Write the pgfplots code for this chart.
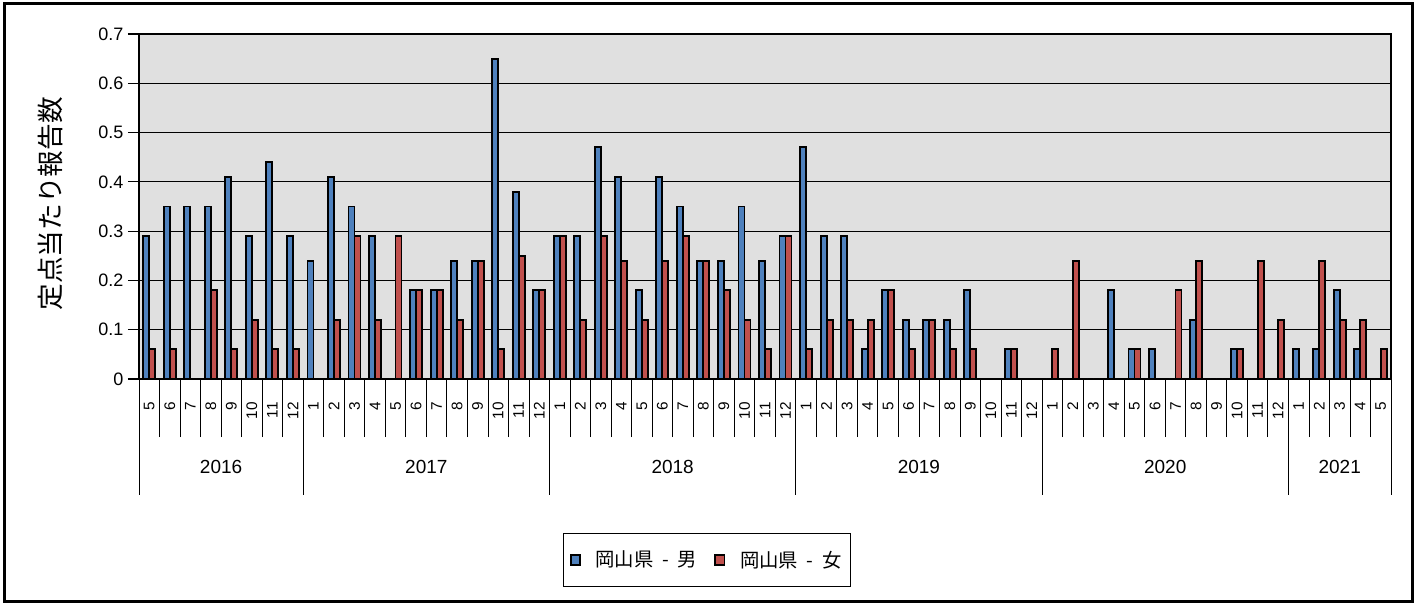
\documentclass[border=0pt]{standalone}
\usepackage{pgfplots}
\usepackage{pgfplotstable}
\pgfplotsset{compat=1.18}
\usepackage{fontspec}
\setmainfont{Liberation Sans}
\newfontfamily\cjk{Noto Sans CJK JP}
\definecolor{mblue}{RGB}{79,129,189}
\definecolor{fred}{RGB}{192,80,77}
\definecolor{plotbg}{RGB}{224,224,224}
\pgfplotsset{sqlegend/.style={legend image code/.code={\draw[##1, line width=1.3pt] (0pt,-3.5pt) rectangle (7pt,3.5pt);}}}

\pgfplotstableread{
x m f
0 0.29 0.06
1 0.35 0.06
2 0.35 0
3 0.35 0.18
4 0.41 0.06
5 0.29 0.12
6 0.44 0.06
7 0.29 0.06
8 0.24 0
9 0.41 0.12
10 0.35 0.29
11 0.29 0.12
12 0 0.29
13 0.18 0.18
14 0.18 0.18
15 0.24 0.12
16 0.24 0.24
17 0.65 0.06
18 0.38 0.25
19 0.18 0.18
20 0.29 0.29
21 0.29 0.12
22 0.47 0.29
23 0.41 0.24
24 0.18 0.12
25 0.41 0.24
26 0.35 0.29
27 0.24 0.24
28 0.24 0.18
29 0.35 0.12
30 0.24 0.06
31 0.29 0.29
32 0.47 0.06
33 0.29 0.12
34 0.29 0.12
35 0.06 0.12
36 0.18 0.18
37 0.12 0.06
38 0.12 0.12
39 0.12 0.06
40 0.18 0.06
41 0 0
42 0.06 0.06
43 0 0
44 0 0.06
45 0 0.24
46 0 0
47 0.18 0
48 0.06 0.06
49 0.06 0
50 0 0.18
51 0.12 0.24
52 0 0
53 0.06 0.06
54 0 0.24
55 0 0.12
56 0.06 0
57 0.06 0.24
58 0.18 0.12
59 0.06 0.12
60 0 0.06
}\data

\begin{document}
\begin{tikzpicture}
\useasboundingbox (0,0) rectangle (1066.5pt,452.25pt);
\draw[black, line width=2.25pt] (3.375pt,0.75pt) rectangle (1059.375pt,449.25pt);
\node[rotate=90, font=\cjk\fontsize{20pt}{22pt}\selectfont] at (37.5pt,299.25pt) {定点当たり報告数};
\begin{axis}[
  at={(104.25pt,168pt)}, anchor=south west,
  width=939pt, height=258.75pt, scale only axis,
  clip=false,
  ybar=0pt, bar width=4.5pt,
  xmin=-0.5, xmax=60.5, ymin=0, ymax=0.7,
  enlargelimits=false,
  axis background/.style={fill=plotbg},
  axis line style={black, line width=0.8pt},
  ytick={0,0.1,0.2,0.3,0.4,0.5,0.6,0.7},
  yticklabels={0,0.1,0.2,0.3,0.4,0.5,0.6,0.7},
  ymajorgrids, major grid style={black, line width=0.8pt},
  tick align=outside, tick pos=left,
  major tick length=8.25pt,
  minor tick length=43.5pt,
  xtick={0,...,60},
  major x tick style={draw=none},
  minor xtick={-0.5,0.5,1.5,2.5,3.5,4.5,5.5,6.5,7.5,8.5,9.5,10.5,11.5,12.5,13.5,14.5,15.5,16.5,17.5,18.5,19.5,20.5,21.5,22.5,23.5,24.5,25.5,26.5,27.5,28.5,29.5,30.5,31.5,32.5,33.5,34.5,35.5,36.5,37.5,38.5,39.5,40.5,41.5,42.5,43.5,44.5,45.5,46.5,47.5,48.5,49.5,50.5,51.5,52.5,53.5,54.5,55.5,56.5,57.5,58.5,59.5,60.5},
  minor x tick style={black, line width=0.6pt},
  major y tick style={black, line width=0.8pt},
  xticklabels={5,6,7,8,9,10,11,12,1,2,3,4,5,6,7,8,9,10,11,12,1,2,3,4,5,6,7,8,9,10,11,12,1,2,3,4,5,6,7,8,9,10,11,12,1,2,3,4,5,6,7,8,9,10,11,12,1,2,3,4,5},
  xticklabel style={font=\fontsize{11.5pt}{12pt}\selectfont, rotate=90, anchor=east, inner sep=1pt},
  xticklabel shift=8pt,
  yticklabel style={font=\fontsize{13.5pt}{15pt}\selectfont},
  /pgf/number format/assume math mode=true,
  legend columns=2,
  legend style={at={(0.4537,-0.5246)}, anchor=center, draw=black, line width=0.75pt,
    font=\cjk\fontsize{14.5pt}{16pt}\selectfont, inner xsep=5pt, inner ysep=11pt,
    /tikz/every even column/.append style={column sep=11pt}},
]
\addplot[fill=mblue, draw=black, line width=1.4pt, sqlegend] table[x=x, y=m] {\data};
\addplot[fill=fred, draw=black, line width=1.4pt, sqlegend] table[x=x, y=f] {\data};
\addlegendentry{\hspace{9pt}岡山県\hspace{6.5pt}-\hspace{6.5pt}男}
\addlegendentry{\hspace{9pt}岡山県\hspace{6.5pt}-\hspace{6.5pt}女}
\foreach \b in {-0.5,7.5,19.5,31.5,43.5,55.5,60.5} {
  \edef\tmp{\noexpand\draw[black, line width=0.6pt] (axis cs:\b,0) -- ++(0pt,-87pt);}
  \tmp
}
\foreach \c/\yr in {3.5/2016,13.5/2017,25.5/2018,37.5/2019,49.5/2020,58/2021} {
  \edef\tmp{\noexpand\node[font=\noexpand\fontsize{14.25pt}{16pt}\noexpand\selectfont] at (axis cs:\c,0) [yshift=-66pt] {\yr};}
  \tmp
}
\end{axis}
\end{tikzpicture}
\end{document}
